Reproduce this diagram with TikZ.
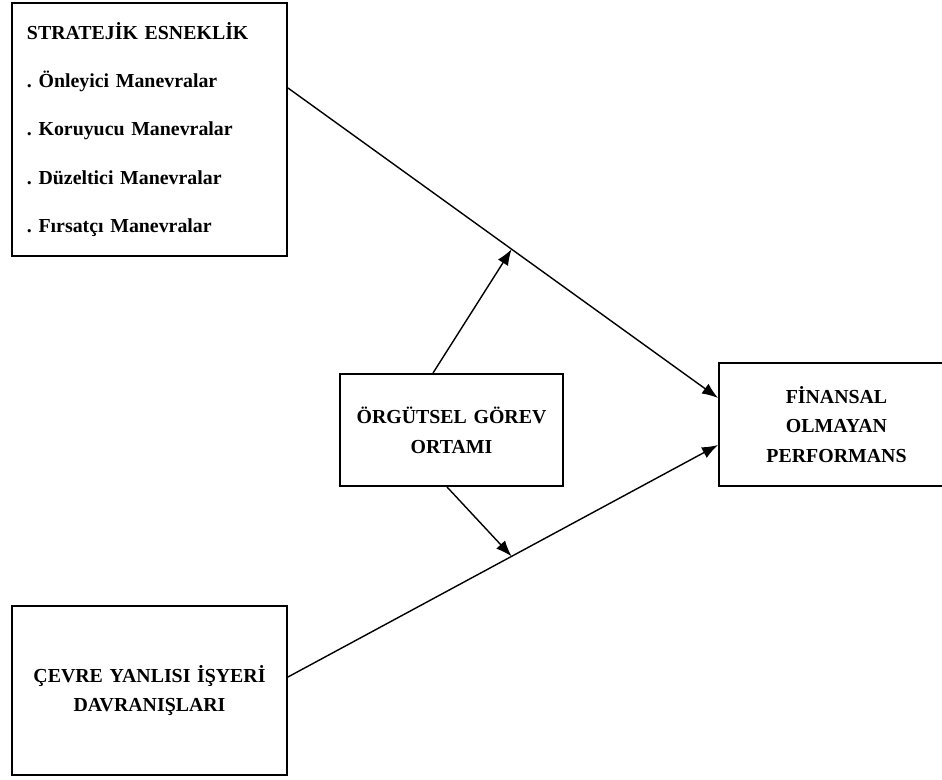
\documentclass[tikz,border=0pt]{standalone}
\usepackage{fontspec}
\setmainfont{Liberation Serif}
\frenchspacing
\usetikzlibrary{arrows.meta}

\begin{document}
\begin{tikzpicture}[
  box/.style={draw, line width=1.1pt, inner sep=0pt, align=center,
    font=\bfseries\fontsize{11.3}{17}\selectfont},
  arr/.style={line width=0.8pt, -{Latex[length=3.2mm,width=2.4mm]}}]

\useasboundingbox (0,0) rectangle (18.84,-15.6);

\node[box, align=left, text width=4.9cm, inner xsep=0.3cm, minimum height=5.06cm,
  font=\bfseries\fontsize{11.3}{27.5}\selectfont] (esneklik) at (2.99,-2.59)
  {STRATEJİK ESNEKLİK\\. Önleyici Manevralar\\. Koruyucu Manevralar\\. Düzeltici Manevralar\\. Fırsatçı Manevralar};
\node[box, text width=5.5cm, minimum height=3.38cm] (cevre) at (2.99,-13.81)
  {ÇEVRE YANLISI İŞYERİ\\DAVRANIŞLARI};
\node[box, text width=4.46cm, minimum height=2.24cm] (orgut) at (9.03,-8.6)
  {ÖRGÜTSEL GÖREV\\ORTAMI};
\node[box, text width=4.7cm, minimum height=2.46cm] (finans) at (16.73,-8.49)
  {FİNANSAL\\OLMAYAN\\PERFORMANS};

\draw[arr] ([yshift=0.83cm]esneklik.east) -- coordinate[pos=0.52] (m1) ([yshift=0.53cm]finans.west);
\draw[arr] ([yshift=0.27cm]cevre.east) -- coordinate[pos=0.52] (m2) ([yshift=-0.41cm]finans.west);
\draw[arr] ([xshift=-0.37cm]orgut.north) -- (m1);
\draw[arr] ([xshift=-0.09cm]orgut.south) -- (m2);

\end{tikzpicture}
\end{document}
